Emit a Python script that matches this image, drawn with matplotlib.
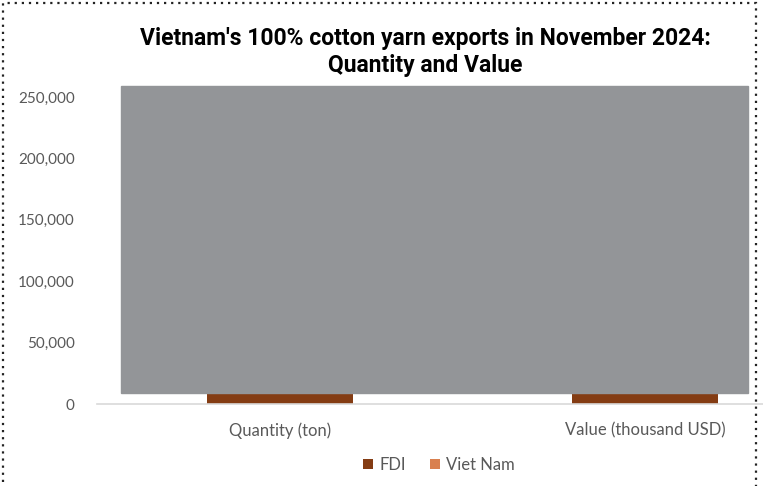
import matplotlib
matplotlib.use("Agg")
import matplotlib.pyplot as plt
from matplotlib.patches import Rectangle
from matplotlib.ticker import FuncFormatter

# ----------------------------------------------------------------------------
# Data (bar tops are hidden behind the grey overlay; values are estimates)
# ----------------------------------------------------------------------------
categories = ["Quantity (ton)", "Value (thousand USD)"]
fdi = [75000, 200000]
viet_nam = [12000, 28000]
yticks = [0, 50000, 100000, 150000, 200000, 250000]

FDI_COLOR = "#843c13"
VN_COLOR = "#d9804f"
TEXT_GRAY = "#595959"

plt.rcParams["font.family"] = ["Lato", "DejaVu Sans"]

fig = plt.figure(figsize=(7.63, 4.86), dpi=100)
W, H = 763, 486
ax = fig.add_axes([97 / W, 1 - 404 / H, 666 / W, 307 / H])

x = range(len(categories))
ax.bar(x, fdi, width=0.4, color=FDI_COLOR, label="FDI", zorder=2)
ax.bar(x, viet_nam, width=0.4, bottom=fdi, color=VN_COLOR,
       label="Viet Nam", zorder=2)

ax.set_xlim(-0.5, 1.323)
ax.set_ylim(0, 250000)
ax.set_yticks(yticks)
ax.yaxis.set_major_formatter(FuncFormatter(lambda v, p: f"{int(v):,}"))
ax.set_xticks(list(x))
ax.set_xticklabels(categories)
ax.tick_params(axis="both", length=0, colors=TEXT_GRAY)
ax.tick_params(axis="y", pad=16, labelsize=11)
ax.tick_params(axis="x", pad=13, labelsize=12)
for s in ["top", "right", "left"]:
    ax.spines[s].set_visible(False)
ax.spines["bottom"].set_color("#d9d9d9")
ax.spines["bottom"].set_linewidth(1.2)

# grey block covering most of the plot area
fig.patches.append(Rectangle((121 / W, 1 - 393 / H), 627 / W, 307 / H,
                             transform=fig.transFigure, color="#939598",
                             zorder=5))

# dotted outer frame (bottom edge lies outside the image)
fig.patches.append(Rectangle((3 / W, -0.05), 753 / W, 1 - 3 / H + 0.05,
                             transform=fig.transFigure, fill=False,
                             edgecolor="#222222", linestyle=(0, (1, 2.2)),
                             linewidth=1.6, zorder=6))

fig.text(0.557, 1 - 52 / H,
         "Vietnam's 100% cotton yarn exports in November 2024:\nQuantity and Value",
         ha="center", va="center", fontsize=16.5, fontweight="bold",
         family=["Roboto", "DejaVu Sans"], linespacing=1.25)

leg = fig.legend(loc="center", bbox_to_anchor=(439 / W, 1 - 465 / H),
                 ncol=2, frameon=False, fontsize=12, handlelength=0.6,
                 handleheight=0.6, handletextpad=0.4, columnspacing=1.4)
for t in leg.get_texts():
    t.set_color(TEXT_GRAY)

fig.savefig("out.png", dpi=100)
